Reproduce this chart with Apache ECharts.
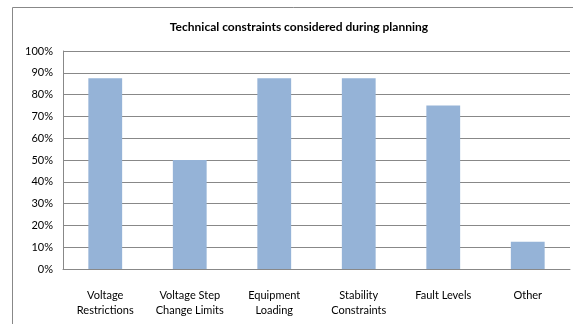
<!DOCTYPE html>
<html>
<head>
<meta charset="utf-8">
<script src="https://cdn.jsdelivr.net/npm/echarts@6/dist/echarts.min.js"></script>
<style>
  html, body { margin: 0; padding: 0; background: #fff; }
  #chart { width: 573px; height: 324px; }
</style>
</head>
<body>
<div id="chart"></div>
<script>
const categories = ['Voltage\nRestrictions', 'Voltage Step\nChange Limits', 'Equipment\nLoading', 'Stability\nConstraints', 'Fault Levels', 'Other']
const values = [87.5, 50, 87.5, 87.5, 75, 12.5]

let chart = echarts.init(document.getElementById('chart'))

let font = 'Lato, "DejaVu Sans", sans-serif'

chart.setOption({
  animation: false,
  title: {
    text: 'Technical constraints considered during planning',
    left: 294,
    top: 16,
    textAlign: 'center',
    textStyle: { fontFamily: font, fontSize: 12, fontWeight: 'bold', color: '#000' }
  },
  graphic: [{
    type: 'rect',
    shape: { x: 12.5, y: 7.5, width: 620, height: 340 },
    style: { fill: 'none', stroke: '#888', lineWidth: 1 },
    silent: true
  }],
  grid: { left: 63, right: 3, top: 51, bottom: 55 },
  xAxis: {
    type: 'category',
    data: categories,
    axisLine: { lineStyle: { color: '#888' } },
    axisTick: { show: false },
    axisLabel: { color: '#000', fontFamily: font, fontSize: 11, lineHeight: 15, margin: 19, interval: 0 }
  },
  yAxis: {
    type: 'value',
    min: 0,
    max: 100,
    interval: 10,
    axisLine: { show: true, lineStyle: { color: '#888' } },
    axisTick: { show: false },
    splitLine: { lineStyle: { color: '#888' } },
    axisLabel: { formatter: '{value}%', color: '#000', fontFamily: font, fontSize: 11, margin: 10 }
  },
  series: [{
    type: 'bar',
    data: values,
    barWidth: '40%',
    itemStyle: { color: '#95B3D7' }
  }]
})
</script>
</body>
</html>
